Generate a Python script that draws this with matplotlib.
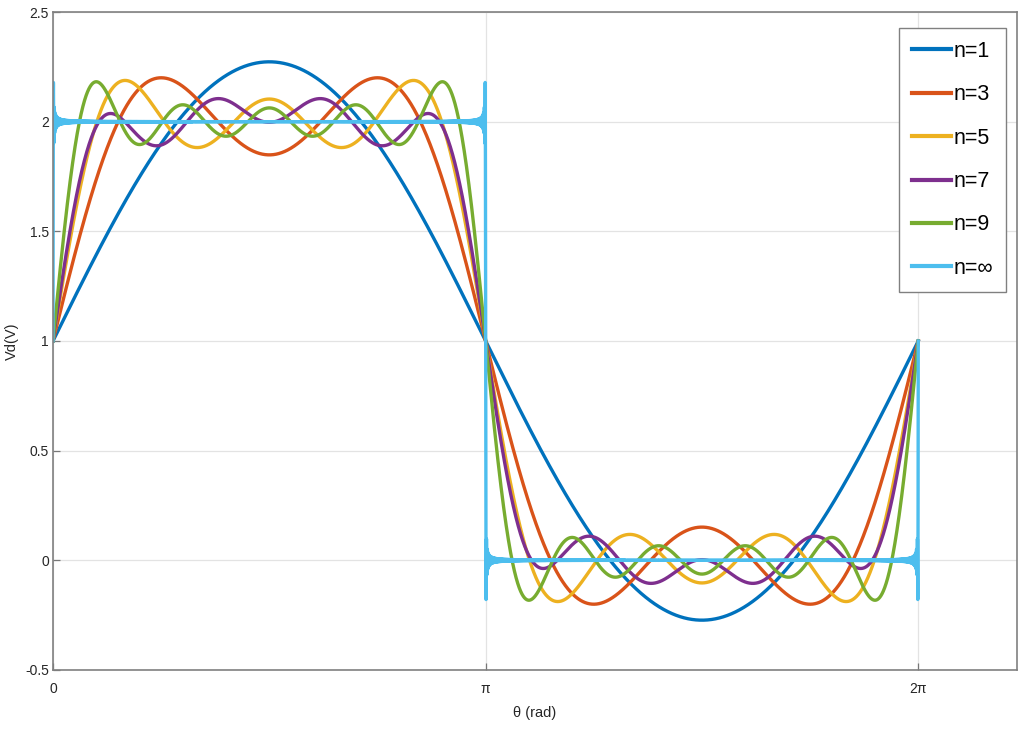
import numpy as np
import matplotlib
matplotlib.use("Agg")
import matplotlib.pyplot as plt

# --- data ---
series_labels = ["n=1", "n=3", "n=5", "n=7", "n=9", "n=\u221e"]
highest_harmonic = [1, 3, 5, 7, 9, 999]   # n=∞ drawn as a very high-order partial sum
dc_level = 1.0                             # all curves cross at Vd = 1
fundamental_amp = 1.273                    # n=1 peak reads 2.27 -> amplitude ~1.273
# gain on the harmonics above the fundamental, as read from the ripple heights
# (the n=7 curve in the chart has visibly smaller ripples: ~0.785 of the others)
upper_harmonic_gain = [1.0, 1.0, 1.0, 0.785, 1.0, 1.0]
series_colors = ["#0072BD", "#D95319", "#EDB120", "#7E2F8E", "#77AC30", "#4DBEEE"]
x_tick_values = [0, np.pi, 2 * np.pi]
x_tick_labels = ["0", "\u03c0", "2\u03c0"]
y_tick_values = [-0.5, 0, 0.5, 1, 1.5, 2, 2.5]
y_tick_labels = ["-0.5", "0", "0.5", "1", "1.5", "2", "2.5"]

plt.rcParams["font.family"] = ["Liberation Sans", "DejaVu Sans"]

theta = np.linspace(0, 2 * np.pi, 40001)

fig = plt.figure(figsize=(10.19, 7.29), dpi=100)
ax = fig.add_axes([0.052, 0.081, 0.946, 0.9025])

for lab, nmax, gain, col in zip(series_labels, highest_harmonic,
                                upper_harmonic_gain, series_colors):
    v = np.full_like(theta, dc_level)
    for k in range(1, nmax + 1, 2):
        g = 1.0 if k == 1 else gain
        v += g * fundamental_amp * np.sin(k * theta) / k
    ax.plot(theta, v, color=col, lw=2.4, label=lab)

ax.set_xlim(0, 7)
ax.set_ylim(-0.5, 2.5)
ax.set_xticks(x_tick_values)
ax.set_xticklabels(x_tick_labels)
ax.set_yticks(y_tick_values)
ax.set_yticklabels(y_tick_labels)
ax.grid(True, color="#e3e3e3", lw=0.9)
ax.set_axisbelow(True)
ax.tick_params(direction="in", length=5, width=0.9, colors="#777777",
               labelcolor="#262626", labelsize=10)
ax.tick_params(axis="x", pad=9)
ax.tick_params(axis="y", pad=3)
for s in ax.spines.values():
    s.set_color("#808080")
    s.set_linewidth(1.2)
ax.set_xlabel("\u03b8 (rad)", fontsize=10.5, color="#262626", labelpad=7)
ax.set_ylabel("Vd(V)", fontsize=10.5, color="#262626", labelpad=4)

leg = ax.legend(loc="upper right", bbox_to_anchor=(0.9886, 0.9757), fontsize=15.5,
                handlelength=1.8, handletextpad=0.1, labelspacing=1.04,
                borderpad=0.6, fancybox=False, framealpha=1, borderaxespad=0)
leg.get_frame().set_edgecolor("#808080")
leg.get_frame().set_linewidth(1.0)
for h in leg.get_lines():
    h.set_linewidth(3)

fig.savefig("out.png", dpi=100)
